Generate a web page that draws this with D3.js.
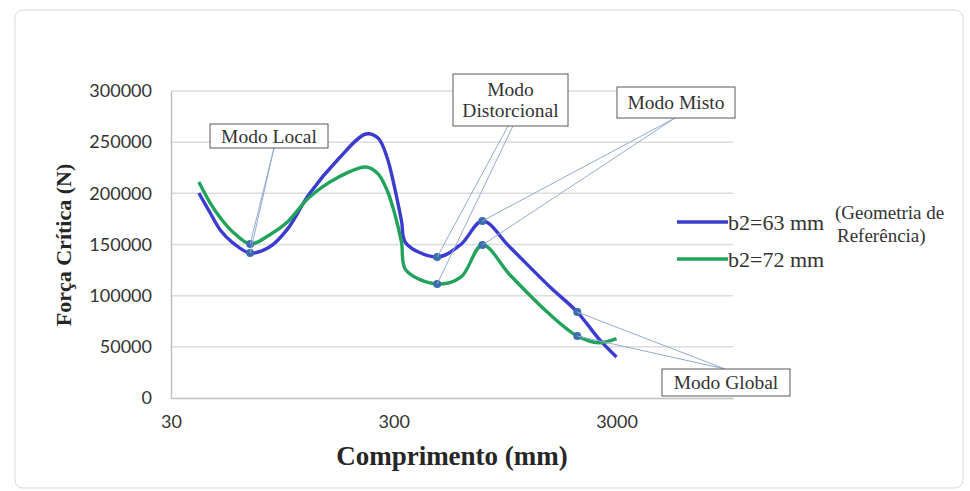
<!DOCTYPE html>
<html>
<head>
<meta charset="utf-8">
<script src="https://cdn.jsdelivr.net/npm/d3@7"></script>
<style>
    body { margin: 0; background: #fff; }
</style>
</head>
<body>
<div class="canvas"></div>
<script>
// data
const lengths = [40, 45, 50, 57, 68, 83, 100, 125, 170, 225, 255, 280, 303, 325, 340, 470, 600, 750, 1000, 1500, 2000, 2500, 3000];
const b63 = [200300, 180800, 164000, 151400, 141700, 147500, 165000, 199000, 234000, 258000, 254000, 235000, 205000, 173000, 151400, 137800, 150000, 173000, 147000, 109000, 84000, 57800, 40000];
const b72 = [211000, 190500, 176000, 162000, 150500, 159300, 172000, 196000, 216000, 225700, 219000, 203000, 180000, 152000, 125000, 111400, 118000, 149500, 120000, 82000, 60600, 54000, 58000];
const seriesNames = ['b2=63 mm', 'b2=72 mm'];
const markerLengths = [68, 470, 750, 2000];
const xTicks = [30, 300, 3000];
const yTicks = [0, 50000, 100000, 150000, 200000, 250000, 300000];

// select the svg container
const svg = d3.select('.canvas')
    .append('svg')
        .attr('width', 970)
        .attr('height', 491);

// chart border
svg.append('rect')
    .attr('x', 15).attr('y', 10)
    .attr('width', 948).attr('height', 478)
    .attr('rx', 8)
    .attr('fill', '#fff')
    .attr('stroke', '#d9d9d9');

// plot area
const plot = {left: 171, right: 733, top: 91, bottom: 398};

// scales
const x = d3.scaleLog()
    .domain([30, 10000])
    .range([plot.left, plot.right]);

const y = d3.scaleLinear()
    .domain([0, 300000])
    .range([plot.bottom, plot.top]);

// gridlines
svg.append('g')
    .selectAll('line')
    .data(yTicks.filter(d => d > 0))
    .enter().append('line')
        .attr('x1', plot.left).attr('x2', plot.right)
        .attr('y1', d => y(d)).attr('y2', d => y(d))
        .attr('stroke', '#dcdcdc')
        .attr('stroke-width', 1.5);

// axes
const yAxis = d3.axisLeft(y).tickValues(yTicks).tickSize(0).tickPadding(19).tickFormat(d3.format('d'));
const xAxis = d3.axisBottom(x).tickValues(xTicks).tickSize(0).tickPadding(17).tickFormat(d3.format('d'));

const yAxisGroup = svg.append('g')
    .attr('transform', `translate(${plot.left}, 0)`)
    .call(yAxis);
const xAxisGroup = svg.append('g')
    .attr('transform', `translate(0, ${plot.bottom})`)
    .call(xAxis);

[xAxisGroup, yAxisGroup].forEach(g => {
    g.select('.domain').attr('stroke', '#bfbfbf').attr('stroke-width', 1.5);
    g.selectAll('text')
        .attr('font-family', 'Lato, sans-serif')
        .attr('font-size', 18)
        .attr('fill', '#333');
});

// axis titles
svg.append('text')
    .attr('transform', 'translate(71, 245) rotate(-90)')
    .attr('text-anchor', 'middle')
    .attr('font-family', '"Liberation Serif", serif')
    .attr('font-weight', 'bold')
    .attr('font-size', 22)
    .attr('fill', '#262626')
    .text('Força Crítica (N)');

svg.append('text')
    .attr('x', (plot.left + plot.right) / 2)
    .attr('y', 465)
    .attr('text-anchor', 'middle')
    .attr('font-family', '"Liberation Serif", serif')
    .attr('font-weight', 'bold')
    .attr('font-size', 27)
    .attr('fill', '#262626')
    .text('Comprimento (mm)');

// lines
const series = [
    {name: seriesNames[0], values: b63, color: '#3b3bd2'},
    {name: seriesNames[1], values: b72, color: '#22a35c'}
];

const line = d3.line()
    .x((d, i) => x(lengths[i]))
    .y(d => y(d))
    .curve(d3.curveCatmullRom.alpha(0.5));

svg.append('g')
    .selectAll('path')
    .data(series)
    .enter().append('path')
        .attr('d', d => line(d.values))
        .attr('fill', 'none')
        .attr('stroke', d => d.color)
        .attr('stroke-width', 3.4)
        .attr('stroke-linejoin', 'round');

// mode markers
const markers = [];
series.forEach(s => {
    markerLengths.forEach(len => {
        markers.push({len: len, value: s.values[lengths.indexOf(len)]});
    });
});

svg.append('g')
    .selectAll('circle')
    .data(markers)
    .enter().append('circle')
        .attr('cx', d => x(d.len))
        .attr('cy', d => y(d.value))
        .attr('r', 4)
        .attr('fill', '#3b6cae');

// annotation boxes, each pointing to the markers at one length
const notes = [
    {lines: ['Modo Local'], len: 68, box: [210, 124, 118, 24], from: [[274, 148], [274, 148]]},
    {lines: ['Modo', 'Distorcional'], len: 470, box: [453, 74, 115, 52], from: [[508, 126], [513, 126]]},
    {lines: ['Modo Misto'], len: 750, box: [617, 87, 118, 31], from: [[675, 118], [675, 118]]},
    {lines: ['Modo Global'], len: 2000, box: [662, 369, 128, 27], from: [[725, 369], [725, 369]]}
];

const leaders = svg.append('g');
notes.forEach(n => {
    const i = lengths.indexOf(n.len);
    [b63[i], b72[i]].forEach((v, k) => {
        leaders.append('line')
            .attr('x1', n.from[k][0]).attr('y1', n.from[k][1])
            .attr('x2', x(n.len)).attr('y2', y(v))
            .attr('stroke', '#93abcf')
            .attr('stroke-width', 1);
    });
});

const boxes = svg.append('g')
    .selectAll('g')
    .data(notes)
    .enter().append('g');

boxes.append('rect')
    .attr('x', d => d.box[0]).attr('y', d => d.box[1])
    .attr('width', d => d.box[2]).attr('height', d => d.box[3])
    .attr('fill', '#fff')
    .attr('stroke', '#595959')
    .attr('stroke-width', 1);

boxes.each(function(d) {
    const g = d3.select(this);
    const cx = d.box[0] + d.box[2] / 2;
    const cy = d.box[1] + d.box[3] / 2;
    d.lines.forEach((t, j) => {
        g.append('text')
            .attr('x', cx)
            .attr('y', cy + (j - (d.lines.length - 1) / 2) * 21)
            .attr('dy', '0.35em')
            .attr('text-anchor', 'middle')
            .attr('font-family', '"Liberation Serif", serif')
            .attr('font-size', 19.5)
            .attr('fill', '#333')
            .text(t);
    });
});

// legend
const legend = svg.append('g')
    .selectAll('g')
    .data(series)
    .enter().append('g')
        .attr('transform', (d, i) => `translate(677, ${222 + i * 37})`);

legend.append('line')
    .attr('x1', 0).attr('x2', 51)
    .attr('stroke', d => d.color)
    .attr('stroke-width', 3.4);

legend.append('text')
    .attr('x', 51)
    .attr('dy', '0.35em')
    .attr('font-family', '"Liberation Serif", serif')
    .attr('font-size', 22)
    .attr('fill', '#333')
    .text(d => d.name);

// note next to the reference geometry
svg.append('text')
    .attr('font-family', '"Liberation Serif", serif')
    .attr('font-size', 19)
    .attr('fill', '#333')
    .selectAll('tspan')
    .data(['(Geometria de', 'Referência)'])
    .enter().append('tspan')
        .attr('x', (d, i) => i === 0 ? 835 : 837)
        .attr('y', (d, i) => 219 + i * 23)
        .text(d => d);
</script>
</body>
</html>
